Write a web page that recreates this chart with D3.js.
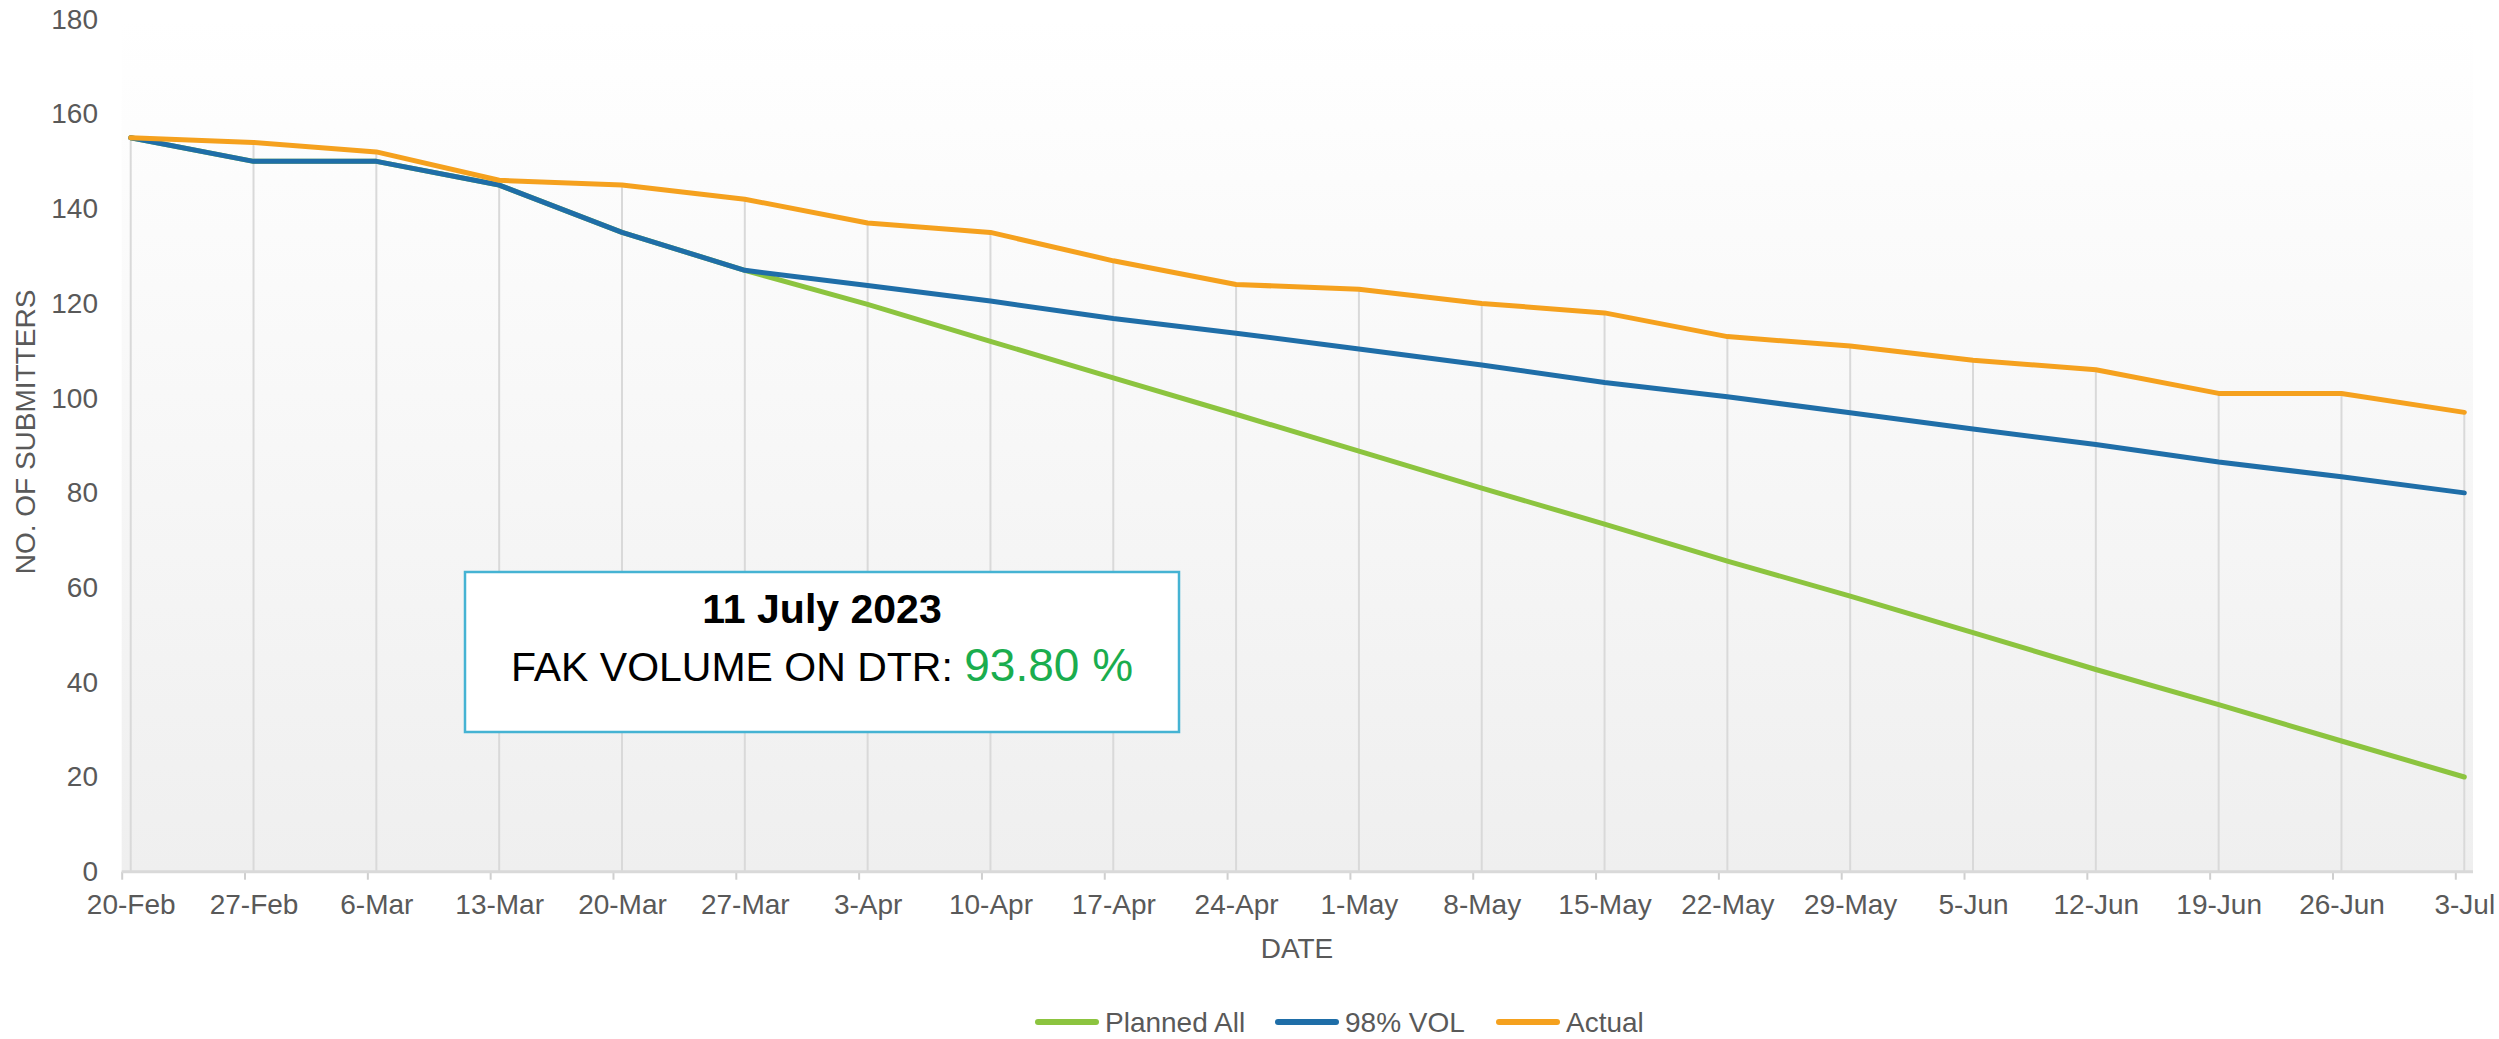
<!DOCTYPE html>
<html>
<head>
<meta charset="utf-8">
<script src="https://cdn.jsdelivr.net/npm/d3@7"></script>
<style>
  html, body { margin: 0; padding: 0; background: #fff; }
  svg { display: block; font-family: "Liberation Sans", Arial, sans-serif; }
</style>
</head>
<body>
<svg id="chart" width="2499" height="1039"></svg>
<script>
const categories = ["20-Feb","27-Feb","6-Mar","13-Mar","20-Mar","27-Mar","3-Apr","10-Apr","17-Apr","24-Apr","1-May","8-May","15-May","22-May","29-May","5-Jun","12-Jun","19-Jun","26-Jun","3-Jul"];
const plannedAll = [155,150,150,145,135,127,119.8,112,104.3,96.6,88.8,81,73.4,65.6,58.2,50.5,42.7,35.3,27.6,20];
const vol98 = [155,150,150,145,135,127,123.8,120.5,116.8,113.7,110.4,107,103.3,100.3,96.9,93.5,90.2,86.5,83.4,80];
const actual = [155,154,152,146,145,142,137,135,129,124,123,120,118,113,111,108,106,101,101,97];
const yTicks = [0,20,40,60,80,100,120,140,160,180];
const seriesNames = ["Planned All","98% VOL","Actual"];
const seriesColors = ["#8cc43f","#1f6ea8","#f5a11e"];
const annotationDate = "11 July 2023";
const annotationLabel = "FAK VOLUME ON DTR: ";
const annotationValue = "93.80 %";

const svg = d3.select("#chart");
const plotLeft = 121.7, plotRight = 2473, plotTop = 19.3, plotBottom = 871.7;

const x = d3.scalePoint().domain(categories).range([130.7, 2464.3]);
const y = d3.scaleLinear().domain([0, 180]).range([plotBottom, plotTop]);

const defs = svg.append("defs");
const grad = defs.append("linearGradient").attr("id","bg").attr("x1",0).attr("y1",0).attr("x2",0).attr("y2",1);
grad.append("stop").attr("offset","0%").attr("stop-color","#ffffff");
grad.append("stop").attr("offset","100%").attr("stop-color","#efefef");

svg.append("rect").attr("x", plotLeft).attr("y", plotTop)
  .attr("width", plotRight - plotLeft).attr("height", plotBottom - plotTop)
  .attr("fill", "url(#bg)");

// vertical drop gridlines from the Actual line down to the axis
svg.append("g").selectAll("line").data(categories).join("line")
  .attr("x1", d => x(d)).attr("x2", d => x(d))
  .attr("y1", (d, i) => y(actual[i])).attr("y2", plotBottom)
  .attr("stroke", "#d9d9d9").attr("stroke-width", 2);

// x axis labels
const xAxisG = svg.append("g").attr("transform", `translate(0,${plotBottom})`)
  .call(d3.axisBottom(x).tickSize(0).tickPadding(42));
xAxisG.select(".domain").remove();
xAxisG.selectAll("text").attr("fill","#595959").attr("font-size", 28)
  .attr("font-family", '"Liberation Sans", Arial, sans-serif').attr("dy", 0);

// tick marks (offset to the left like reference)
const tickG = svg.append("g").attr("transform", `translate(-9,${plotBottom})`)
  .call(d3.axisBottom(x).tickSize(8).tickFormat(""));
tickG.select(".domain").remove();
tickG.selectAll("line").attr("stroke","#cfcfcf").attr("stroke-width",2);

svg.append("line").attr("x1", plotLeft).attr("x2", plotRight)
  .attr("y1", plotBottom).attr("y2", plotBottom)
  .attr("stroke","#d9d9d9").attr("stroke-width",3);

// y axis
const yAxisG = svg.append("g").attr("transform", `translate(98,0)`)
  .call(d3.axisLeft(y).tickValues(yTicks).tickSize(0).tickPadding(0));
yAxisG.select(".domain").remove();
yAxisG.selectAll("text").attr("fill","#595959").attr("font-size", 28)
  .attr("font-family", '"Liberation Sans", Arial, sans-serif');

// axis titles
svg.append("text").attr("transform", "translate(35,432) rotate(-90)")
  .attr("text-anchor","middle").attr("fill","#595959").attr("font-size",28)
  .text("NO. OF SUBMITTERS");
svg.append("text").attr("x", 1297).attr("y", 958)
  .attr("text-anchor","middle").attr("fill","#595959").attr("font-size",28)
  .text("DATE");

// lines
const line = d3.line().x((d,i) => x(categories[i])).y(d => y(d));
[plannedAll, vol98, actual].forEach((s, k) => {
  svg.append("path").datum(s).attr("d", line)
    .attr("fill","none").attr("stroke", seriesColors[k])
    .attr("stroke-width", 5).attr("stroke-linejoin","round").attr("stroke-linecap","round");
});

// annotation box
const box = svg.append("g");
box.append("rect").attr("x", 465).attr("y", 572).attr("width", 714).attr("height", 160)
  .attr("fill","#ffffff").attr("stroke","#45b3d3").attr("stroke-width",2.5);
box.append("text").attr("x", 822).attr("y", 623).attr("text-anchor","middle")
  .attr("font-size", 41).attr("font-weight","bold").attr("fill","#000")
  .text(annotationDate);
const t2 = box.append("text").attr("x", 822).attr("y", 681).attr("text-anchor","middle");
t2.append("tspan").attr("font-size", 41).attr("fill","#000").text(annotationLabel);
t2.append("tspan").attr("font-size", 46).attr("fill","#1aad4e").text(annotationValue);

// legend
const legendPos = [1036, 1276, 1497];
const legend = svg.append("g");
seriesNames.forEach((n, k) => {
  const g = legend.append("g").attr("transform", `translate(${legendPos[k]},1022)`);
  g.append("line").attr("x1", 2).attr("x2", 60).attr("y1", 0).attr("y2", 0)
    .attr("stroke", seriesColors[k]).attr("stroke-width", 6).attr("stroke-linecap","round");
  g.append("text").attr("x", 69).attr("y", 10).attr("fill","#595959").attr("font-size", 28).text(n);
});
</script>
</body>
</html>
